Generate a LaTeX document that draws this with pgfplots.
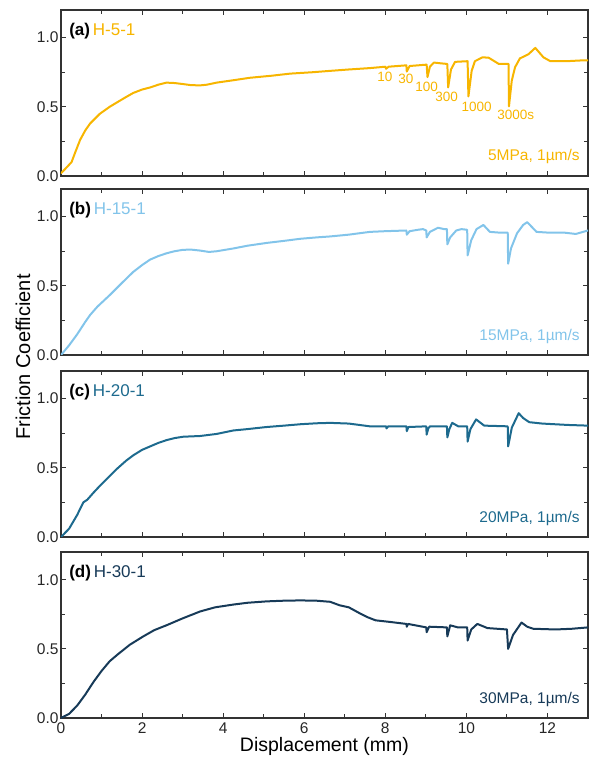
\documentclass[border=0pt]{standalone}
\usepackage{fontspec}
\setmainfont{Liberation Sans}
\usepackage{pgfplots}
\pgfplotsset{compat=1.18}
\definecolor{ca}{HTML}{F7B500}
\definecolor{cb}{HTML}{82C4EA}
\definecolor{cc}{HTML}{1D6A8E}
\definecolor{cd}{HTML}{173A58}
\definecolor{frame}{HTML}{333333}
\pgfplotsset{
  panel/.style={
    width=527pt, height=166pt, scale only axis,
    xmin=0, xmax=13, ymin=0, ymax=1.2,
    xtick={0,2,...,12}, minor xtick={1,3,...,13},
    ytick={0,0.5,1.0}, minor ytick={0.25,0.75},
    tick align=inside, major tick length=5pt, minor tick length=4pt,
    axis line style={line width=1.3pt, draw=frame},
    tick style={line width=0.9pt, draw=frame},
    tick label style={font=\fontsize{15.5}{15.5}\selectfont, text=black!85},
    /pgf/number format/assume math mode=true,
    yticklabel style={/pgf/number format/fixed, /pgf/number format/fixed zerofill, /pgf/number format/precision=1, xshift=1pt},
    xticklabels={},
    clip=true,
  },
  curve/.style={line width=2pt, line join=round, line cap=round},
}
\begin{document}
\begin{tikzpicture}
\path[use as bounding box] (-61pt,-43pt) rectangle (534pt,718pt);

% ---------------- (a)
\begin{axis}[panel, at={(0pt,542pt)}]
\addplot[curve, ca] coordinates {
(0,0.02) (0.1,0.05) (0.26,0.10) (0.35,0.17) (0.47,0.26) (0.6,0.33) (0.72,0.38)
(0.96,0.45) (1.2,0.50) (1.37,0.53) (1.6,0.57) (1.78,0.60) (2.0,0.625) (2.2,0.64)
(2.4,0.66) (2.6,0.675) (2.8,0.672) (3.0,0.665) (3.2,0.657) (3.43,0.655) (3.6,0.66)
(3.84,0.675) (4.2,0.69) (4.66,0.71) (5.2,0.725) (5.65,0.74) (6.2,0.75) (6.64,0.76)
(7.1,0.77) (7.62,0.78) (8.0,0.79) (8.02,0.775) (8.08,0.79) (8.52,0.80) (8.53,0.755)
(8.6,0.795) (9.02,0.805) (9.04,0.715) (9.1,0.79) (9.2,0.82) (9.35,0.815) (9.53,0.81)
(9.55,0.64) (9.62,0.77) (9.72,0.825) (10.03,0.83) (10.05,0.575) (10.13,0.76)
(10.21,0.83) (10.4,0.858) (10.55,0.855) (10.8,0.81) (11.04,0.81) (11.05,0.503)
(11.12,0.69) (11.2,0.786) (11.32,0.85) (11.53,0.88) (11.7,0.926) (11.9,0.858)
(12.07,0.83) (12.48,0.83) (12.81,0.835) (13,0.835)
};
\node[anchor=west, inner sep=0pt, font=\fontsize{17}{17}\selectfont] at (axis cs:0.2,1.05) {\textbf{(a)}\,\textcolor{ca}{H-5-1}};
\node[anchor=east, inner sep=0pt, font=\fontsize{15.5}{15.5}\selectfont, text=ca] at (axis cs:12.8,0.14) {5MPa, 1µm/s};
\begin{scope}[every node/.style={inner sep=0pt, font=\fontsize{13.5}{13.5}\selectfont, text=ca}]
\node at (axis cs:7.99,0.714) {10};
\node at (axis cs:8.51,0.70) {30};
\node at (axis cs:9.02,0.647) {100};
\node at (axis cs:9.51,0.57) {300};
\node at (axis cs:10.25,0.50) {1000};
\node at (axis cs:11.22,0.44) {3000s};
\end{scope}
\end{axis}

% ---------------- (b)
\begin{axis}[panel, at={(0pt,363pt)}]
\addplot[curve, cb] coordinates {
(0,0) (0.2,0.07) (0.4,0.15) (0.6,0.24) (0.72,0.29) (0.9,0.35) (1.21,0.435) (1.5,0.52)
(1.78,0.60) (2.0,0.65) (2.2,0.69) (2.4,0.715) (2.6,0.735) (2.8,0.75) (3.0,0.76)
(3.2,0.762) (3.43,0.755) (3.65,0.745) (3.84,0.75) (4.25,0.77) (4.6,0.79) (5.07,0.81)
(5.5,0.825) (5.9,0.84) (6.3,0.85) (6.64,0.857) (7.1,0.87) (7.62,0.89) (8.0,0.895)
(8.52,0.90) (8.53,0.87) (8.6,0.895) (8.8,0.905) (8.93,0.91) (9.01,0.90) (9.02,0.85)
(9.1,0.89) (9.3,0.92) (9.45,0.91) (9.52,0.91) (9.53,0.80) (9.6,0.85) (9.75,0.90)
(9.88,0.91) (10.02,0.905) (10.03,0.72) (10.12,0.83) (10.25,0.91) (10.42,0.94)
(10.58,0.89) (10.8,0.885) (11.02,0.885) (11.03,0.66) (11.1,0.77) (11.25,0.88)
(11.4,0.94) (11.5,0.96) (11.6,0.93) (11.73,0.89) (12.0,0.885) (12.4,0.885)
(12.7,0.875) (13,0.90)
};
\node[anchor=west, inner sep=0pt, font=\fontsize{17}{17}\selectfont] at (axis cs:0.2,1.05) {\textbf{(b)}\,\textcolor{cb}{H-15-1}};
\node[anchor=east, inner sep=0pt, font=\fontsize{15.5}{15.5}\selectfont, text=cb] at (axis cs:12.8,0.135) {15MPa, 1µm/s};
\end{axis}

% ---------------- (c)
\begin{axis}[panel, at={(0pt,181pt)}]
\addplot[curve, cc] coordinates {
(0,0) (0.2,0.06) (0.4,0.16) (0.55,0.25) (0.65,0.27) (0.8,0.32) (0.96,0.37) (1.2,0.44)
(1.37,0.49) (1.6,0.55) (1.78,0.59) (2.0,0.63) (2.2,0.655) (2.4,0.68) (2.6,0.70)
(2.8,0.715) (3.02,0.725) (3.43,0.73) (3.84,0.745) (4.25,0.77) (4.6,0.78) (5.07,0.795)
(5.5,0.805) (5.9,0.815) (6.3,0.822) (6.64,0.825) (7.1,0.82) (7.62,0.80) (8.02,0.80)
(8.03,0.785) (8.07,0.80) (8.52,0.80) (8.53,0.765) (8.57,0.795) (9.01,0.80)
(9.02,0.74) (9.06,0.785) (9.1,0.80) (9.52,0.80) (9.53,0.72) (9.58,0.78) (9.65,0.825)
(9.8,0.80) (10.02,0.80) (10.03,0.69) (10.1,0.78) (10.24,0.85) (10.44,0.805)
(11.02,0.80) (11.03,0.655) (11.12,0.79) (11.29,0.895) (11.4,0.86) (11.55,0.83)
(11.87,0.82) (12.5,0.81) (13,0.805)
};
\node[anchor=west, inner sep=0pt, font=\fontsize{17}{17}\selectfont] at (axis cs:0.2,1.05) {\textbf{(c)}\,\textcolor{cc}{H-20-1}};
\node[anchor=east, inner sep=0pt, font=\fontsize{15.5}{15.5}\selectfont, text=cc] at (axis cs:12.8,0.135) {20MPa, 1µm/s};
\end{axis}

% ---------------- (d)
\begin{axis}[panel, at={(0pt,0pt)}, xticklabels={0,2,4,6,8,10,12},
  xticklabel style={yshift=-1pt},
  xlabel={Displacement (mm)},
  xlabel style={font=\fontsize{19.5}{19.5}\selectfont, yshift=3pt}]
\addplot[curve, cd] coordinates {
(0,0) (0.2,0.03) (0.4,0.09) (0.6,0.17) (0.8,0.26) (1.0,0.34) (1.2,0.41) (1.4,0.46)
(1.7,0.53) (2.03,0.59) (2.3,0.635) (2.6,0.67) (3.0,0.72) (3.43,0.77) (3.8,0.80)
(4.25,0.82) (4.6,0.833) (5.07,0.843) (5.5,0.848) (5.9,0.85) (6.3,0.848) (6.64,0.84)
(6.87,0.815) (7.1,0.80) (7.35,0.76) (7.55,0.73) (7.76,0.706) (8.1,0.695) (8.52,0.68)
(8.53,0.66) (8.56,0.68) (9.01,0.655) (9.02,0.62) (9.08,0.66) (9.52,0.655)
(9.53,0.59) (9.6,0.67) (9.79,0.655) (10.02,0.655) (10.03,0.56) (10.12,0.64)
(10.27,0.68) (10.52,0.65) (11.0,0.64) (11.03,0.50) (11.15,0.60) (11.36,0.69)
(11.5,0.66) (11.65,0.645) (12.2,0.64) (12.6,0.645) (13,0.655)
};
\node[anchor=west, inner sep=0pt, font=\fontsize{17}{17}\selectfont] at (axis cs:0.2,1.05) {\textbf{(d)}\,\textcolor{cd}{H-30-1}};
\node[anchor=east, inner sep=0pt, font=\fontsize{15.5}{15.5}\selectfont, text=cd] at (axis cs:12.8,0.135) {30MPa, 1µm/s};
\end{axis}

\node[rotate=90, font=\fontsize{20}{20}\selectfont] at (-38pt,361pt) {Friction Coefficient};
\end{tikzpicture}
\end{document}
